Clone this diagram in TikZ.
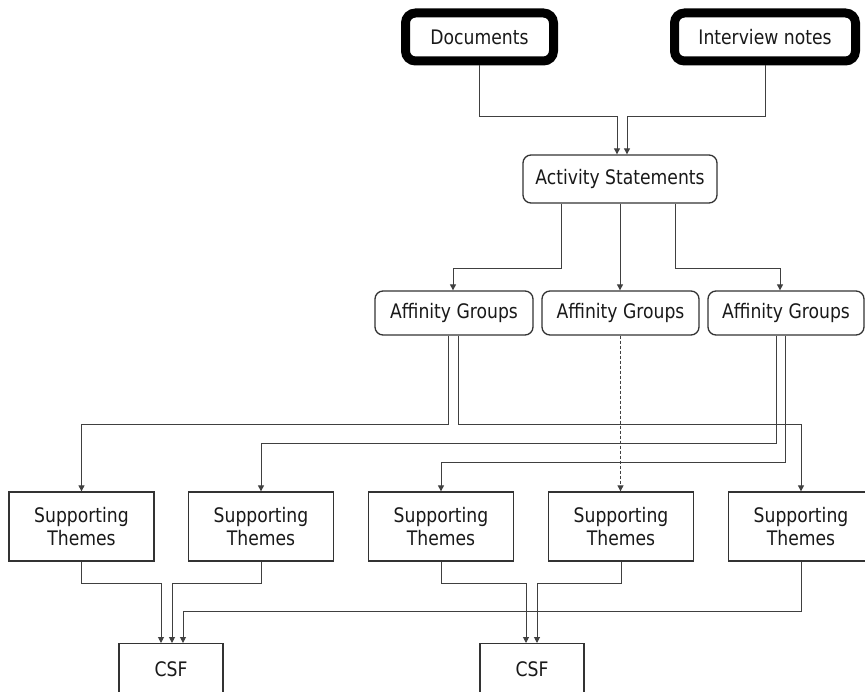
\documentclass[tikz,border=0pt]{standalone}
\usepackage{fontspec}
\setmainfont{DejaVu Sans}[FakeStretch=0.86]
\usetikzlibrary{arrows.meta,calc}

\begin{document}
\begin{tikzpicture}[x=1pt,y=-1pt,
  every node/.style={font=\fontsize{20}{23}\selectfont, text=black!90, inner sep=0pt},
  source/.style={draw=black, line width=9pt, rounded corners=10pt, minimum height=48pt},
  stage/.style={draw=black!80, line width=1.3pt, rounded corners=8pt},
  theme/.style={draw=black!80, line width=1.3pt, minimum width=145pt, minimum height=69pt, align=center},
  factor/.style={draw=black!80, line width=1.3pt, minimum width=104pt, minimum height=52pt, anchor=north},
  link/.style={draw=black!75, line width=1pt, -{Triangle[length=6pt,width=6pt]}},
  loose/.style={link, dashed, dash pattern=on 3pt off 2pt}
]
\clip (0,0) rectangle (865,692);
\fill[white] (0,0) rectangle (865,692);

% sources
\node[source, minimum width=148pt] (doc) at (479.5,37) {Documents};
\node[source, minimum width=181pt] (int) at (765,37) {Interview notes};

% activity statements
\node[stage, minimum width=194pt, minimum height=48pt] (act) at (620,179) {Activity Statements};

% affinity groups
\node[stage, minimum width=158pt, minimum height=44pt] (ag1) at (454,313) {Affinity Groups};
\node[stage, minimum width=157pt, minimum height=44pt] (ag2) at (620.5,313) {Affinity Groups};
\node[stage, minimum width=156pt, minimum height=44pt] (ag3) at (786,313) {Affinity Groups};

% supporting themes
\node[theme] (st1) at (81.5,526.5) {Supporting\\Themes};
\node[theme] (st2) at (261,526.5) {Supporting\\Themes};
\node[theme] (st3) at (441,526.5) {Supporting\\Themes};
\node[theme] (st4) at (621,526.5) {Supporting\\Themes};
\node[theme] (st5) at (801,526.5) {Supporting\\Themes};

% critical success factors (lower edge runs past the frame)
\node[factor] (csf1) at (171,643) {CSF};
\node[factor] (csf2) at (532,643) {CSF};

% sources -> activity statements
\draw[link] (doc.south) -- ++(0,51) -| ($(act.north)+(-3,0)$);
\draw[link] (int.south) -- ++(0,51) -| ($(act.north)+(7,0)$);

% activity statements -> affinity groups
\draw[link] ($(act.south)+(-59,0)$) -- ++(0,65) -| ($(ag1.north)+(-1,0)$);
\draw[link] (act.south) -- (act.south |- ag2.north);
\draw[link] ($(act.south)+(55,0)$) -- ++(0,65) -| ($(ag3.north)+(-6,0)$);

% affinity groups -> supporting themes
\draw[link] ($(ag1.south)+(-6,0)$) -- ++(0,89) -| (st1.north);
\draw[link] ($(ag1.south)+(4,0)$) -- ++(0,89) -| (st5.north);
\draw[link] ($(ag3.south)+(-10,0)$) -- ++(0,108) -| (st2.north);
\draw[link] ($(ag3.south)+(-1,0)$) -- ++(0,127) -| (st3.north);
\draw[loose] (ag2.south) -- (ag2.south |- st4.north);

% supporting themes -> CSF
\draw[link] (st1.south) -- ++(0,22) -| ($(csf1.north)+(-10,0)$);
\draw[link] (st2.south) -- ++(0,22) -| ($(csf1.north)+(1,0)$);
\draw[link] (st5.south) -- ++(0,50) -| ($(csf1.north)+(12,0)$);
\draw[link] (st3.south) -- ++(0,22) -| ($(csf2.north)+(-6,0)$);
\draw[link] (st4.south) -- ++(0,22) -| ($(csf2.north)+(5,0)$);
\end{tikzpicture}
\end{document}
